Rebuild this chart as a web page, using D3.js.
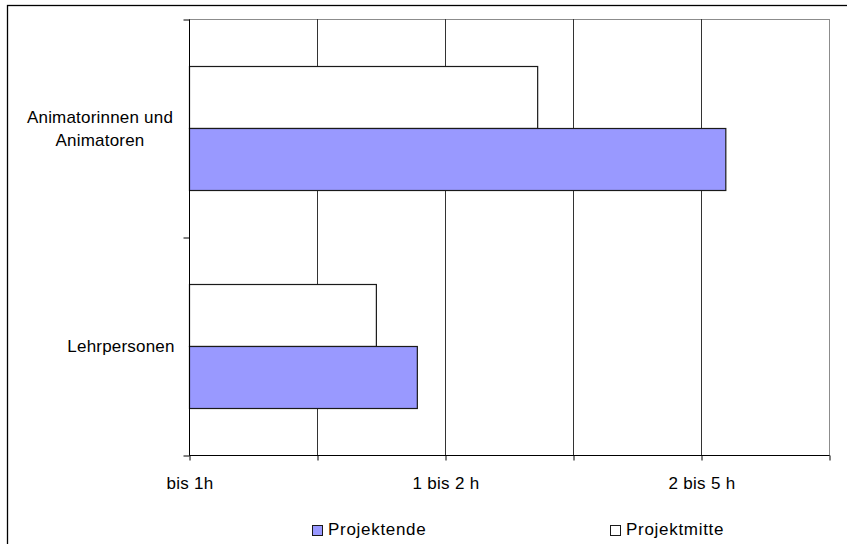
<!DOCTYPE html>
<html>
<head>
<meta charset="utf-8">
<script src="https://cdn.jsdelivr.net/npm/d3@7"></script>
<style>
  html, body { margin: 0; padding: 0; background: #fff; }
  svg { display: block; }
  text { font-family: "Liberation Sans", Arial, sans-serif; fill: #000; }
</style>
</head>
<body>
<svg id="chart" width="847" height="544"></svg>
<script>
// Categories, top to bottom
const categories = ["Animatorinnen und Animatoren", "Lehrpersonen"];
const categoryLines = [["Animatorinnen und", "Animatoren"], ["Lehrpersonen"]];
// Series (drawn top to bottom within each category)
const seriesNames = ["Projektmitte", "Projektende"];
const projektmitte = [2.72, 1.46];
const projektende = [4.19, 1.78];
// Axis tick labels
const tickValues = [0, 1, 2, 3, 4, 5];
const tickLabels = { 0: "bis 1h", 2: "1 bis 2 h", 4: "2 bis 5 h" };
const colors = { "Projektmitte": "#ffffff", "Projektende": "#9999ff" };

const svg = d3.select("#chart");
const margin = { left: 189, top: 19, right: 829, bottom: 455 };
const fontSize = 17;

// outer chart frame
svg.append("rect")
  .attr("x", 7.5).attr("y", 5.5)
  .attr("width", 1000).attr("height", 1000)
  .attr("fill", "none").attr("stroke", "#000").attr("stroke-width", 1.3);

const x = d3.scaleLinear().domain([0, 5]).range([margin.left, margin.right]);
const y = d3.scaleBand().domain(categories).range([margin.top, margin.bottom]).paddingInner(0).paddingOuter(0);
const inner = d3.scaleBand().domain(seriesNames)
  .range([0, y.bandwidth()]).paddingOuter(0.758).paddingInner(0);

// plot area border
svg.append("rect")
  .attr("x", margin.left + 0.5).attr("y", margin.top + 0.5)
  .attr("width", margin.right - margin.left).attr("height", margin.bottom - margin.top)
  .attr("fill", "none").attr("stroke", "#8c8c8c").attr("stroke-width", 1);

// vertical gridlines
svg.append("g").selectAll("line")
  .data(tickValues.slice(1, -1))
  .join("line")
  .attr("x1", d => Math.round(x(d)) + 0.5).attr("x2", d => Math.round(x(d)) + 0.5)
  .attr("y1", margin.top).attr("y2", margin.bottom)
  .attr("stroke", "#333").attr("stroke-width", 1);

// bars
const rows = [];
categories.forEach((c, i) => {
  rows.push({ cat: c, series: "Projektmitte", value: projektmitte[i] });
  rows.push({ cat: c, series: "Projektende", value: projektende[i] });
});
svg.append("g").selectAll("rect")
  .data(rows)
  .join("rect")
  .attr("x", x(0) + 0.5)
  .attr("y", d => Math.round(y(d.cat) + inner(d.series)) + 0.5)
  .attr("width", d => x(d.value) - x(0))
  .attr("height", inner.bandwidth())
  .attr("fill", d => colors[d.series])
  .attr("stroke", "#1a1a1a").attr("stroke-width", 1.2);

// x axis
const xAxis = d3.axisBottom(x)
  .tickValues(tickValues)
  .tickSize(5)
  .tickFormat(() => "");
const gx = svg.append("g")
  .attr("transform", `translate(0.5,${margin.bottom + 0.5})`)
  .call(xAxis);
gx.select(".domain").attr("stroke", "#000").attr("d", `M${margin.left},0H${margin.right}`);
gx.selectAll(".tick line").attr("stroke", "#000");
svg.append("g").selectAll("text")
  .data(Object.keys(tickLabels).map(Number))
  .join("text")
  .attr("x", d => x(d) + 1)
  .attr("y", 489)
  .attr("text-anchor", "middle")
  .attr("font-size", fontSize)
  .attr("letter-spacing", 0.3)
  .text(d => tickLabels[d]);

// y axis
const yAxis = d3.axisLeft(d3.scaleLinear().domain([0, 2]).range([margin.bottom, margin.top]))
  .tickValues([0, 1, 2]).tickSize(6).tickFormat(() => "");
const gy = svg.append("g")
  .attr("transform", `translate(${margin.left + 0.5},0.5)`)
  .call(yAxis);
gy.select(".domain").attr("stroke", "#000").attr("d", `M0,${margin.top}V${margin.bottom}`);
gy.selectAll(".tick line").attr("stroke", "#000");

// category labels
const labelCenters = [100, 121];
categories.forEach((c, i) => {
  const lines = categoryLines[i];
  const cy = y(c) + y.bandwidth() / 2;
  const lh = 23;
  const t = svg.append("text")
    .attr("text-anchor", "middle")
    .attr("font-size", fontSize)
    .attr("letter-spacing", 0.2);
  lines.forEach((ln, j) => {
    t.append("tspan")
      .attr("x", labelCenters[i])
      .attr("y", cy + (j - (lines.length - 1) / 2) * lh + 6)
      .text(ln);
  });
});

// legend
const legendItems = [
  { name: "Projektende", x: 312 },
  { name: "Projektmitte", x: 610 }
];
const lg = svg.append("g").selectAll("g").data(legendItems).join("g")
  .attr("transform", d => `translate(${d.x},0)`);
lg.append("rect")
  .attr("x", 0.5).attr("y", 525.5).attr("width", 10).attr("height", 10)
  .attr("fill", d => colors[d.name]).attr("stroke", "#1a1a1a").attr("stroke-width", 1);
lg.append("text")
  .attr("x", 16).attr("y", 535)
  .attr("font-size", fontSize)
  .attr("letter-spacing", 0.7)
  .text(d => d.name);
</script>
</body>
</html>
